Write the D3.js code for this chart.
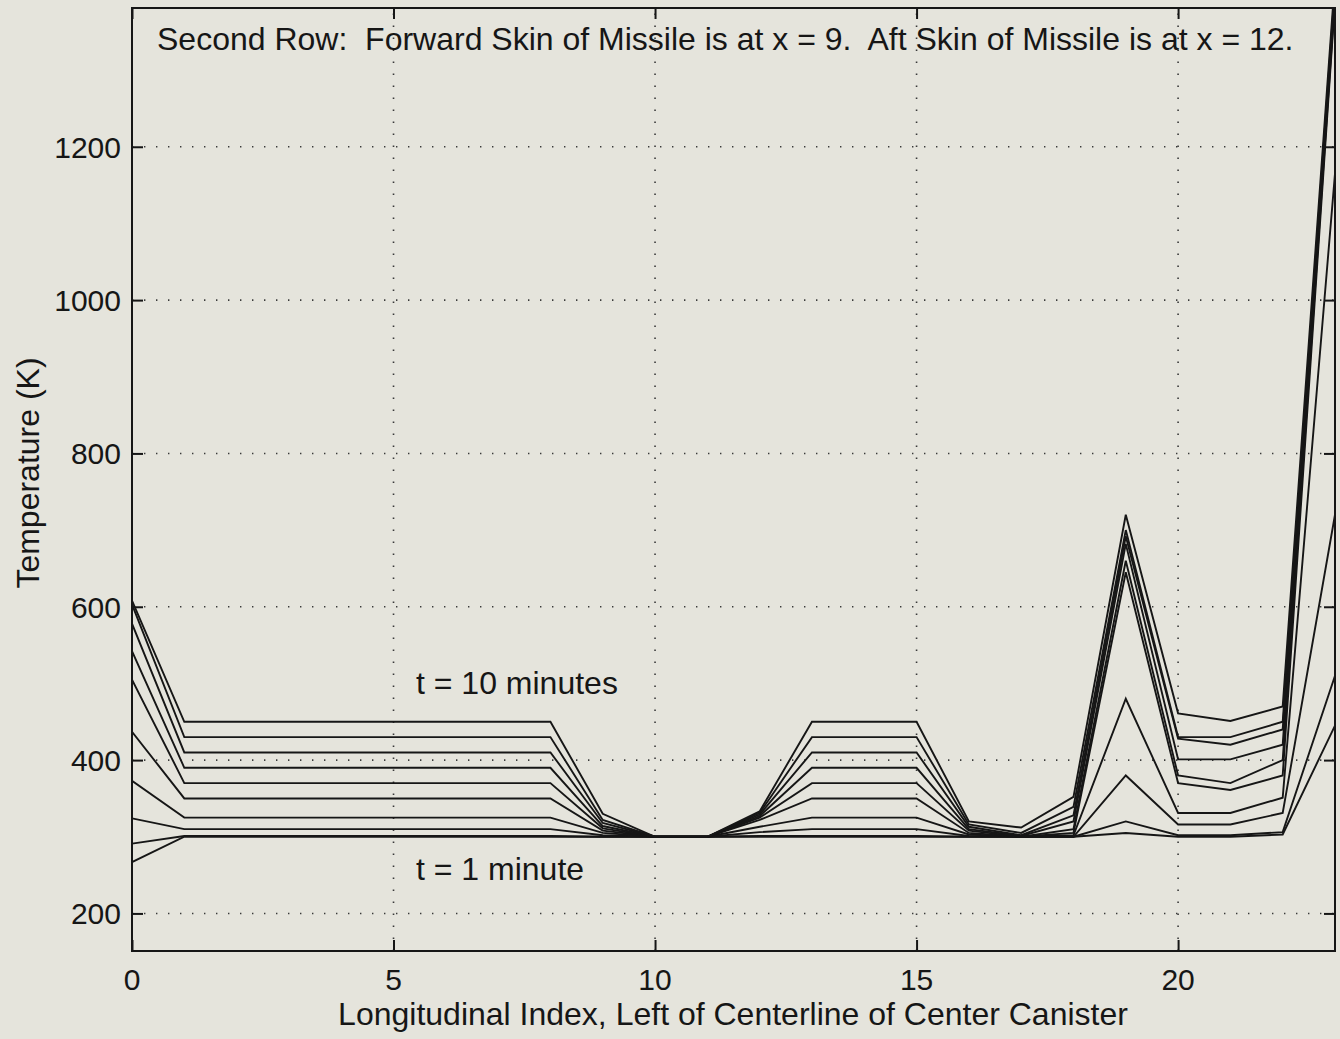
<!DOCTYPE html>
<html>
<head>
<meta charset="utf-8">
<script src="https://cdn.jsdelivr.net/npm/d3@7"></script>
<style>
  html, body { margin: 0; padding: 0; background: #e5e4dc; }
  svg { display: block; }
  text { font-family: "Liberation Sans", Arial, Helvetica, sans-serif; fill: #161616; white-space: pre; }
</style>
</head>
<body>
<svg id="chart" width="1340" height="1039"></svg>
<script>
// Longitudinal grid index along the second row
const xIndex = [0, 1, 2, 3, 4, 5, 6, 7, 8, 9, 10, 11, 12, 13, 14, 15, 16, 17, 18, 19, 20, 21, 22, 23];

// Temperature (K) profiles, one per minute of elapsed time
const t1  = [267, 300, 300, 300, 300, 300, 300, 300, 300, 300, 300, 300, 300, 300, 300, 300, 300, 300, 300, 305, 300, 300, 303, 445];
const t2  = [291, 301, 301, 301, 301, 301, 301, 301, 301, 300, 300, 300, 301, 301, 301, 301, 300, 300, 300, 320, 302, 302, 306, 510];
const t3  = [324, 310, 310, 310, 310, 310, 310, 310, 310, 302, 300, 300, 306, 310, 310, 310, 301, 300, 300, 380, 316, 316, 331, 720];
const t4  = [373, 325, 325, 325, 325, 325, 325, 325, 325, 305, 300, 300, 313, 325, 325, 325, 303, 300, 302, 480, 331, 331, 351, 1165];
const t5  = [437, 350, 350, 350, 350, 350, 350, 350, 350, 308, 300, 300, 322, 350, 350, 350, 305, 300, 305, 645, 370, 361, 380, 1390];
const t6  = [505, 370, 370, 370, 370, 370, 370, 370, 370, 311, 300, 300, 325, 370, 370, 370, 308, 300, 310, 660, 380, 370, 400, 1395];
const t7  = [542, 390, 390, 390, 390, 390, 390, 390, 390, 314, 300, 300, 327, 390, 390, 390, 310, 301, 320, 682, 401, 401, 420, 1400];
const t8  = [578, 410, 410, 410, 410, 410, 410, 410, 410, 318, 300, 300, 329, 410, 410, 410, 313, 302, 328, 692, 428, 420, 440, 1405];
const t9  = [603, 430, 430, 430, 430, 430, 430, 430, 430, 322, 300, 300, 331, 430, 430, 430, 316, 305, 339, 700, 430, 430, 450, 1410];
const t10 = [608, 450, 450, 450, 450, 450, 450, 450, 450, 330, 300, 300, 333, 450, 450, 450, 320, 312, 352, 720, 461, 451, 470, 1420];

const series = [t1, t2, t3, t4, t5, t6, t7, t8, t9, t10];

// Axis ticks and labels
const xTicks = [0, 5, 10, 15, 20];
const yTicks = [200, 400, 600, 800, 1000, 1200];

const titleText = "Second Row:  Forward Skin of Missile is at x = 9.  Aft Skin of Missile is at x = 12.";
const xLabel = "Longitudinal Index, Left of Centerline of Center Canister";
const yLabel = "Temperature (K)";
const noteLate = "t = 10 minutes";
const noteEarly = "t = 1 minute";

// Layout
const plot = { left: 132, right: 1335, top: 8, bottom: 951 };
const svg = d3.select("#chart");

const x = d3.scaleLinear().domain([0, 23]).range([plot.left, plot.right]);
const y = d3.scaleLinear().domain([151, 1381]).range([plot.bottom, plot.top]);

const ink = "#161616";
const labelSize = 32;
const tickSize = 30;

// Dotted grid
const grid = svg.append("g").attr("stroke", "#3a3a3a").attr("stroke-width", 1.6)
  .attr("stroke-dasharray", "1.4 10.6").attr("fill", "none");
grid.selectAll("line.gx").data(xTicks.filter(d => d > 0)).join("line")
  .attr("x1", d => x(d)).attr("x2", d => x(d))
  .attr("y1", plot.bottom).attr("y2", plot.top);
grid.selectAll("line.gy").data(yTicks).join("line")
  .attr("y1", d => y(d)).attr("y2", d => y(d))
  .attr("x1", plot.left).attr("x2", plot.right);

// Clip for data lines
svg.append("defs").append("clipPath").attr("id", "plotClip")
  .append("rect")
  .attr("x", plot.left).attr("y", plot.top)
  .attr("width", plot.right - plot.left).attr("height", plot.bottom - plot.top);

const line = d3.line().x((d, i) => x(xIndex[i])).y(d => y(d));

svg.append("g").attr("clip-path", "url(#plotClip)")
  .selectAll("path").data(series).join("path")
  .attr("d", line)
  .attr("fill", "none")
  .attr("stroke", ink)
  .attr("stroke-width", 1.9)
  .attr("stroke-linejoin", "miter");

// Axes with inward ticks on all four sides
const tickLen = 11;
const axisG = svg.append("g");
axisG.append("g").attr("transform", `translate(0,${plot.bottom})`)
  .call(d3.axisBottom(x).tickValues(xTicks).tickSize(-tickLen).tickFormat(""));
axisG.append("g").attr("transform", `translate(0,${plot.top})`)
  .call(d3.axisTop(x).tickValues(xTicks).tickSize(-tickLen).tickFormat(""));
axisG.append("g").attr("transform", `translate(${plot.left},0)`)
  .call(d3.axisLeft(y).tickValues(yTicks).tickSize(-tickLen).tickFormat(""));
axisG.append("g").attr("transform", `translate(${plot.right},0)`)
  .call(d3.axisRight(y).tickValues(yTicks).tickSize(-tickLen).tickFormat(""));
axisG.selectAll(".domain").remove();
axisG.selectAll(".tick line").attr("stroke", ink).attr("stroke-width", 2);

// Frame
svg.append("rect")
  .attr("x", plot.left).attr("y", plot.top)
  .attr("width", plot.right - plot.left).attr("height", plot.bottom - plot.top)
  .attr("fill", "none").attr("stroke", ink).attr("stroke-width", 2);

// Tick labels
svg.append("g").selectAll("text").data(xTicks).join("text")
  .attr("x", d => x(d)).attr("y", 990)
  .attr("text-anchor", "middle").attr("font-size", tickSize)
  .text(d => d);
svg.append("g").selectAll("text").data(yTicks).join("text")
  .attr("x", 121).attr("y", d => y(d) + 11)
  .attr("text-anchor", "end").attr("font-size", tickSize)
  .text(d => d);

// Axis titles
svg.append("text")
  .attr("x", 733).attr("y", 1025)
  .attr("text-anchor", "middle").attr("font-size", labelSize)
  .text(xLabel);
svg.append("text")
  .attr("transform", `translate(39,${473}) rotate(-90)`)
  .attr("text-anchor", "middle").attr("font-size", labelSize)
  .text(yLabel);

// In-plot title
svg.append("text")
  .attr("x", 157).attr("y", 50)
  .attr("font-size", labelSize)
  .text(titleText);

// Time annotations
svg.append("text").attr("x", 416).attr("y", 694).attr("font-size", labelSize).text(noteLate);
svg.append("text").attr("x", 416).attr("y", 880).attr("font-size", labelSize).text(noteEarly);
</script>
</body>
</html>
